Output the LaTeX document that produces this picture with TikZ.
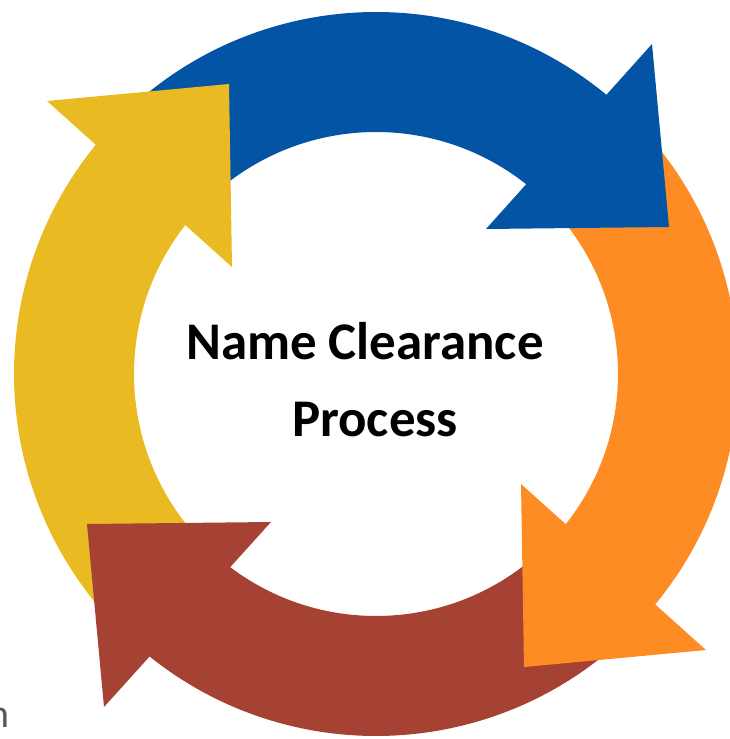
\documentclass[tikz,border=0pt]{standalone}
\usepackage{fontspec}
\setmainfont{Carlito}
\usepackage{tikz}

\begin{document}
\begin{tikzpicture}[x=0.75pt,y=0.75pt,yscale=-1,xscale=1,
  bluearrow/.style={fill={rgb, 255:red, 3; green, 84; blue, 164 }},
  orangearrow/.style={fill={rgb, 255:red, 253; green, 140; blue, 36 }},
  redarrow/.style={fill={rgb, 255:red, 166; green, 66; blue, 51 }},
  yellowarrow/.style={fill={rgb, 255:red, 234; green, 186; blue, 35 }}]
\useasboundingbox (0,0) rectangle (730,739);

\begin{scope}[shift={(376,374)}]
%Shape: Arc [blue body]
\fill [bluearrow] (-135:362) arc [start angle=-135, end angle=-49, radius=362] -- (-49:242) arc [start angle=-49, end angle=-135, radius=242] -- cycle ;
%Shape: Arc [orange body]
\fill [orangearrow] (-45:362) arc [start angle=-45, end angle=41, radius=362] -- (41:242) arc [start angle=41, end angle=-45, radius=242] -- cycle ;
%Shape: Arc [red body]
\fill [redarrow] (45:362) arc [start angle=45, end angle=130, radius=362] -- (130:242) arc [start angle=130, end angle=45, radius=242] -- cycle ;
%Shape: Arc [yellow body]
\fill [yellowarrow] (135:362) arc [start angle=135, end angle=220, radius=362] -- (220:242) arc [start angle=220, end angle=135, radius=242] -- cycle ;
\end{scope}

%Shape: Triangle [blue head]
\fill [bluearrow] (486,229) -- (669,227) -- (652,44) -- cycle ;
%Shape: Triangle [orange head]
\fill [orangearrow] (521,484) -- (524,667) -- (706,650) -- cycle ;
%Shape: Triangle [red head]
\fill [redarrow] (271,522) -- (87,524) -- (104,707) -- cycle ;
%Shape: Triangle [yellow head]
\fill [yellowarrow] (232,267) -- (229,84) -- (47,101) -- cycle ;

% Text Node
\node (name) [anchor=base, inner sep=0, font=\bfseries\fontsize{39.7}{48}\selectfont] at (365,359) {Name Clearance};
% Text Node
\node (process) [anchor=base, inner sep=0, font=\bfseries\fontsize{39.7}{48}\selectfont] at (375,436) {Process};
% Text Node
\node (cut) [anchor=base east, inner sep=0, text={rgb, 255:red, 89; green, 89; blue, 89 }, font=\fontsize{30}{36}\selectfont] at (10,727) {n};

\end{tikzpicture}
\end{document}
